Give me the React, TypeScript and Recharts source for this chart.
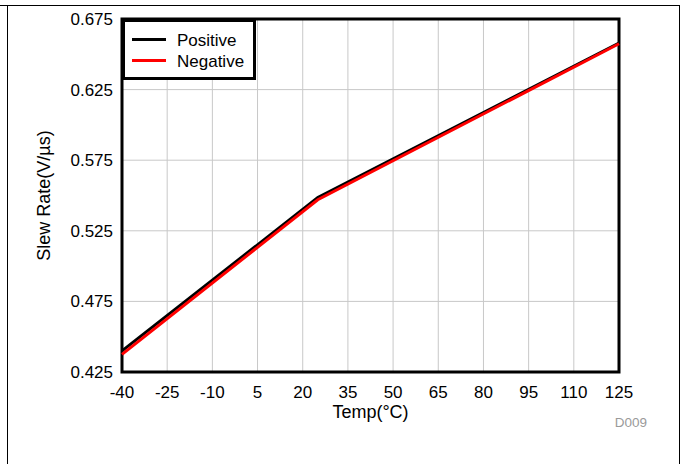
import React from 'react';
import {
  CartesianGrid,
  Legend,
  Line,
  LineChart,
  ReferenceArea,
  XAxis,
  YAxis,
} from 'recharts';

const temps = [-40, 25, 125];
const positive = [0.44, 0.5485, 0.658];
const negative = [0.4375, 0.547, 0.6575];

const xTicks = [-40, -25, -10, 5, 20, 35, 50, 65, 80, 95, 110, 125];
const yTicks = [0.425, 0.475, 0.525, 0.575, 0.625, 0.675];

const seriesNames = ['Positive', 'Negative'];
const seriesColors = ['#000000', '#ff0000'];

const data = temps.map((t, i) => ({
  temp: t,
  positive: positive[i],
  negative: negative[i],
}));

const FONT = '"Liberation Sans", Arial, sans-serif';

const LegendBox = () => (
  <svg width={134} height={61} style={{ display: 'block' }}>
    <rect x={1.5} y={1.5} width={131} height={58} fill="#fff" stroke="#000" strokeWidth={3} />
    {seriesNames.map((name, i) => (
      <g key={name}>
        <line x1={10} x2={44} y1={20.5 + i * 21} y2={20.5 + i * 21} stroke={seriesColors[i]} strokeWidth={3} />
        <text x={55} y={27 + i * 21} fontSize={17} fontFamily={FONT} fill="#000">
          {name}
        </text>
      </g>
    ))}
  </svg>
);

const YTitle = ({ viewBox }: any) => {
  const cx = 50;
  const cy = viewBox.y + viewBox.height / 2;
  return (
    <text
      x={cx}
      y={cy}
      transform={`rotate(-90 ${cx} ${cy})`}
      textAnchor="middle"
      fontSize={18}
      fontFamily={FONT}
      fill="#000"
    >
      Slew Rate(V/µs)
    </text>
  );
};

const XTitle = ({ viewBox }: any) => {
  const cx = viewBox.x + viewBox.width / 2;
  return (
    <g>
      <text x={cx} y={418} textAnchor="middle" fontSize={18} fontFamily={FONT} fill="#000">
        Temp(°C)
      </text>
      <text x={647} y={427} textAnchor="end" fontSize={13.5} fontFamily={FONT} fill="#9a9a9a">
        D009
      </text>
    </g>
  );
};

export default function App() {
  return (
    <div style={{ position: 'absolute', left: 0, top: 0, width: 681, height: 464, background: '#fff' }}>
      <div style={{ position: 'absolute', left: 0, top: 5, width: 680, height: 1, background: '#000' }} />
      <div style={{ position: 'absolute', left: 7, top: 5, width: 1, height: 459, background: '#000' }} />
      <div style={{ position: 'absolute', left: 679, top: 5, width: 1, height: 459, background: '#000' }} />
      <div style={{ position: 'absolute', left: 0, top: 0 }}>
        <LineChart
          width={681}
          height={464}
          data={data}
          margin={{ top: 19, right: 62, left: 0, bottom: 0 }}
          style={{ fontFamily: FONT }}
        >
          <CartesianGrid stroke="#c8c8c8" strokeWidth={1} />
          <XAxis
            dataKey="temp"
            type="number"
            domain={[-40, 125]}
            ticks={xTicks}
            interval={0}
            height={92}
            tickLine={false}
            axisLine={false}
            tickSize={0}
            tickMargin={14}
            tick={{ fill: '#000', fontSize: 17, fontFamily: FONT }}
            label={{ content: XTitle }}
          />
          <YAxis
            type="number"
            domain={[0.425, 0.675]}
            ticks={yTicks}
            interval={0}
            width={122}
            tickLine={false}
            axisLine={false}
            tickSize={0}
            tickMargin={9}
            tickFormatter={(v) => v.toFixed(3)}
            tick={{ fill: '#000', fontSize: 17, fontFamily: FONT }}
            label={{ content: YTitle }}
          />
          <Line
            type="linear"
            dataKey="positive"
            name={seriesNames[0]}
            stroke={seriesColors[0]}
            strokeWidth={3}
            dot={false}
            isAnimationActive={false}
          />
          <Line
            type="linear"
            dataKey="negative"
            name={seriesNames[1]}
            stroke={seriesColors[1]}
            strokeWidth={3}
            dot={false}
            isAnimationActive={false}
          />
          <ReferenceArea
            x1={-40}
            x2={125}
            y1={0.425}
            y2={0.675}
            fill="none"
            stroke="#000"
            strokeWidth={3}
            ifOverflow="visible"
          />
          <Legend
            layout="horizontal"
            align="center"
            verticalAlign="middle"
            content={() => <LegendBox />}
            wrapperStyle={{ left: 122, top: 19, width: 134, height: 61 }}
          />
        </LineChart>
      </div>
    </div>
  );
}
